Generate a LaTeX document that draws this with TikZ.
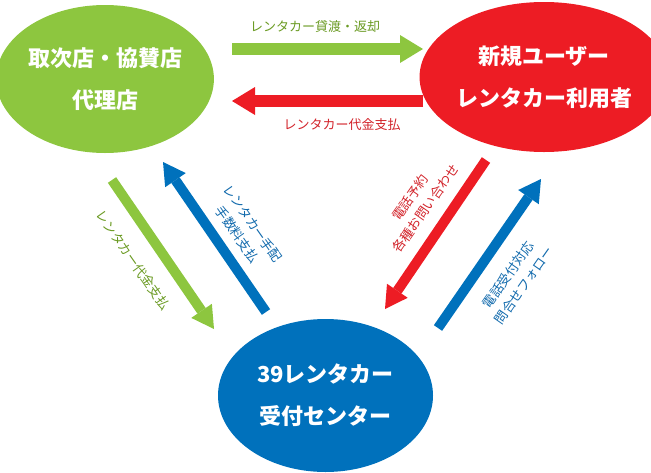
\documentclass[tikz,border=0pt]{standalone}
\usepackage{fontspec}
\newfontfamily\jp{Noto Sans CJK JP}
\usetikzlibrary{shapes.geometric,arrows.meta}
\definecolor{cgreen}{HTML}{8DC63F}
\definecolor{cred}{HTML}{ED1C24}
\definecolor{cblue}{HTML}{0071BC}
\definecolor{tgreen}{HTML}{6A9A22}
\definecolor{tred}{HTML}{D2232A}
\definecolor{tblue}{HTML}{1069AC}
\begin{document}
\begin{tikzpicture}[x=1pt,y=-1pt,
  bubble/.style={ellipse, inner sep=0pt, text=white, align=center,
    font=\jp\bfseries\fontsize{22}{42}\selectfont},
  hfat/.style={line width=12pt, -{Triangle[width=28pt,length=23pt,line width=0pt]}},
  dfat/.style={line width=10pt, -{Triangle[width=25pt,length=22pt,line width=0pt]}},
  lbl/.style={inner sep=0pt, align=center, font=\jp\fontsize{13}{19}\selectfont}
]
\useasboundingbox (0,0) rectangle (651,472);

% bubbles
\node[bubble, fill=cgreen, minimum width=210pt, minimum height=148pt] (agent) at (105,79) {取次店・協賛店\\代理店};
\node[bubble, fill=cred, minimum width=216pt, minimum height=150pt] (user) at (544,77) {新規ユーザー\\レンタカー利用者};
\node[bubble, fill=cblue, minimum width=215pt, minimum height=153pt] (center) at (325.5,395.5) {39レンタカー\\受付センター};

% end points of the arrows
\coordinate (ga) at (232,49);  \coordinate (gb) at (423,49);
\coordinate (ra) at (423,101); \coordinate (rb) at (232,101);
\coordinate (gda) at (112,180); \coordinate (gdb) at (214,329);
\coordinate (bla) at (266,312); \coordinate (blb) at (163,162);
\coordinate (rda) at (486,160); \coordinate (rdb) at (385,309);
\coordinate (bra) at (438,328); \coordinate (brb) at (541,179);

\draw[hfat, draw=cgreen] (ga) -- (gb);
\draw[hfat, draw=cred] (ra) -- (rb);
\draw[dfat, draw=cgreen] (gda) -- (gdb);
\draw[dfat, draw=cblue] (bla) -- (blb);
\draw[dfat, draw=cred] (rda) -- (rdb);
\draw[dfat, draw=cblue] (bra) -- (brb);

% labels
\node[lbl, text=tgreen] (l1) at (315,27) {レンタカー貸渡・返却};
\node[lbl, text=tred] (l2) at (342,125) {レンタカー代金支払};
\node[lbl, text=tgreen, rotate=-55] (l3) at (133,260) {レンタカー代金支払};
\node[lbl, text=tblue, rotate=-55] (l4) at (245,229) {レンタカー手配\\手数料支払};
\node[lbl, text=tred, rotate=55] (l5) at (418,203) {電話予約\\各種お問い合わせ};
\node[lbl, text=tblue, rotate=55] (l6) at (516,280) {電話受付対応\\問合せフォロー};
\end{tikzpicture}
\end{document}
